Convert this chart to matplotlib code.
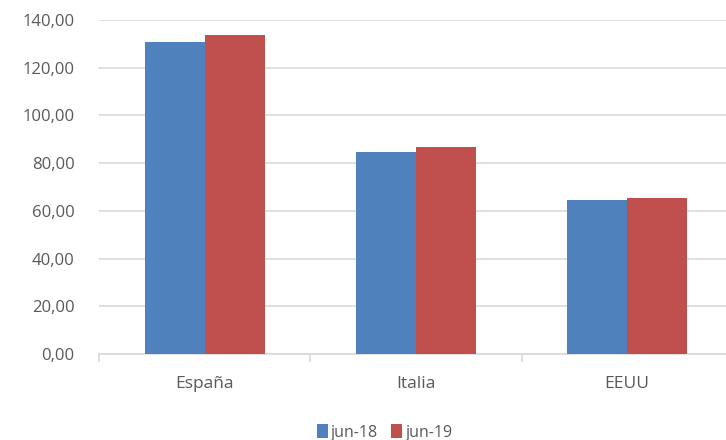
import numpy as np
import matplotlib.pyplot as plt
from matplotlib.ticker import FuncFormatter

# Datos
paises = ["España", "Italia", "EEUU"]
jun18 = [130.6, 84.5, 64.5]
jun19 = [133.7, 86.8, 65.3]
series = ["jun-18", "jun-19"]
colores = ["#4F81BD", "#C0504D"]
yticks = [0, 20, 40, 60, 80, 100, 120, 140]

plt.rcParams["font.family"] = ["Open Sans", "DejaVu Sans"]
texto = "#595959"

fig = plt.figure(figsize=(7.26, 4.4), dpi=100)
ax = fig.add_axes([0.137, 0.1955, 0.872, 0.759])

x = np.arange(len(paises))
w = 0.285
ax.bar(x - w / 2, jun18, w, color=colores[0], label=series[0], zorder=3)
ax.bar(x + w / 2, jun19, w, color=colores[1], label=series[1], zorder=3)

ax.set_xlim(-0.5, len(paises) - 0.5)
ax.set_ylim(0, 140)
ax.set_yticks(yticks)
ax.yaxis.set_major_formatter(FuncFormatter(lambda v, p: f"{v:.2f}".replace(".", ",")))
ax.grid(axis="y", color="#D9D9D9", linewidth=1.2, zorder=0)

ax.set_xticks(x)
ax.set_xticklabels(paises)
ax.set_xticks(np.arange(-0.5, len(paises), 1), minor=True)
ax.tick_params(axis="x", which="major", length=0, pad=16, labelsize=12.5, labelcolor=texto)
ax.tick_params(axis="x", which="minor", length=6, color="#D9D9D9", width=1.2)
ax.tick_params(axis="y", length=0, pad=18, labelsize=12, labelcolor=texto)

for s in ["top", "right", "left"]:
    ax.spines[s].set_visible(False)
ax.spines["bottom"].set_color("#D9D9D9")
ax.spines["bottom"].set_linewidth(1.2)

fig.legend(loc="center", bbox_to_anchor=(0.53, 0.017), ncol=2, frameon=False,
           handlelength=0.7, handleheight=0.9, handletextpad=0.2, columnspacing=0.8,
           fontsize=11.5, labelcolor=texto)

fig.savefig("out.png", dpi=100)
